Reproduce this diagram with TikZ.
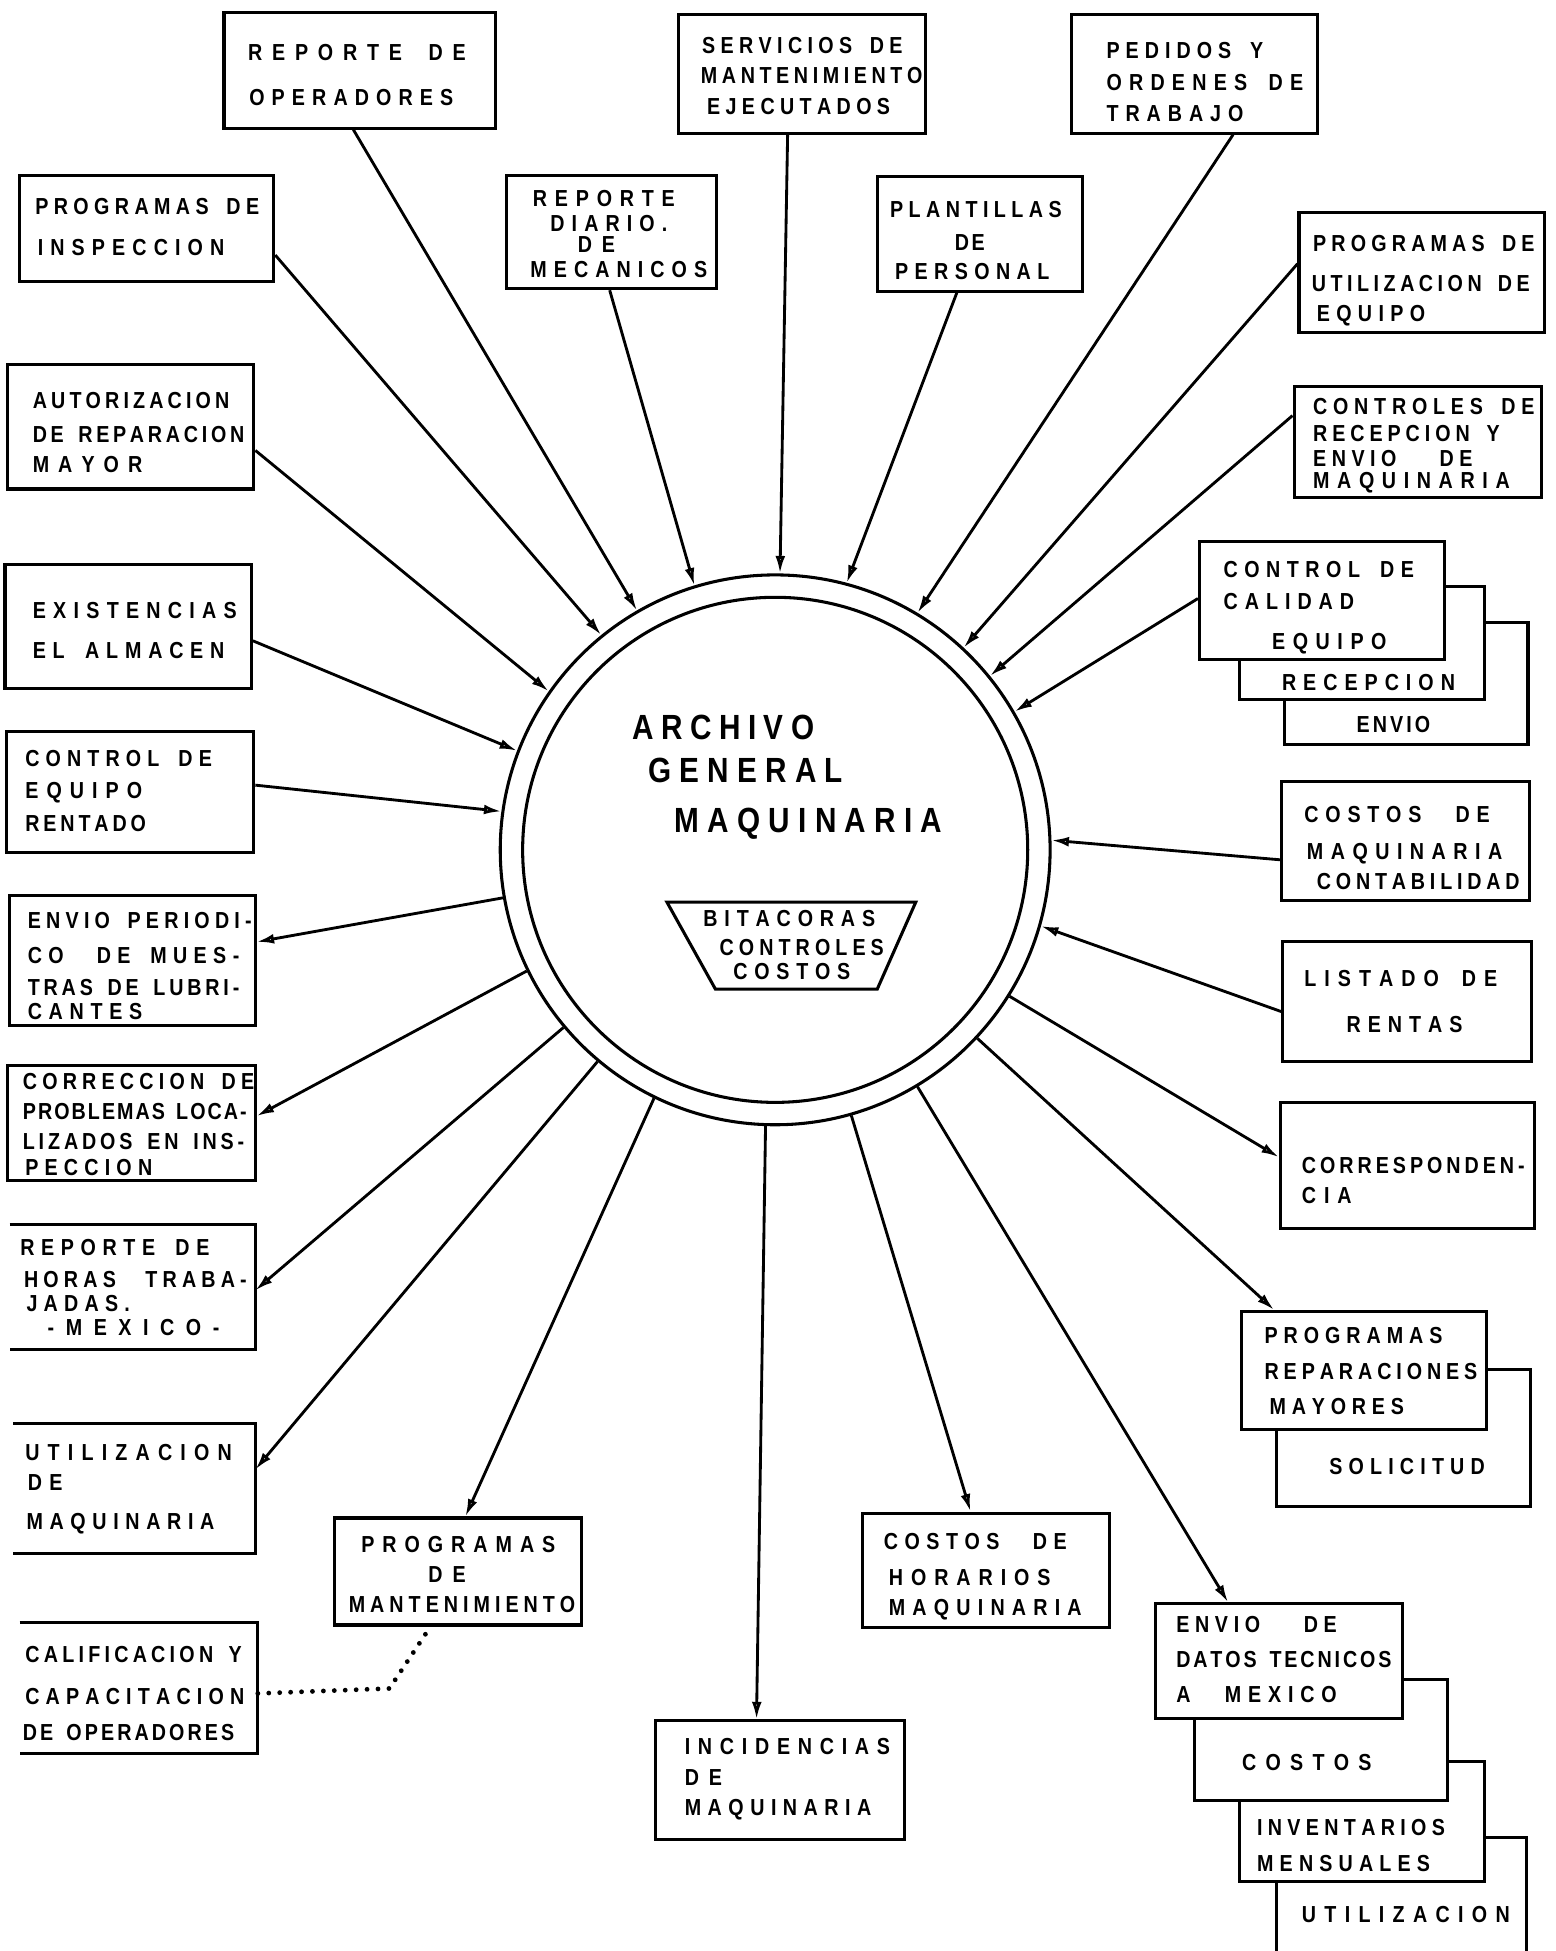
\documentclass[tikz,border=0pt]{standalone}
\usepackage{fontspec}
\usetikzlibrary{arrows.meta}
\newfontfamily\lblfont{Liberation Sans}[FakeStretch=0.85]
\newlength\pxu \setlength\pxu{0.02cm}
\makeatletter
\def\spr@end{\spr@end@}
\def\spr@loop#1{\ifx#1\spr@end\else\ifx#1~\hskip0.3em\hfil\else#1\hfil\fi\expandafter\spr@loop\fi}
\newcommand\spr[2]{\hbox to #1\pxu{\spr@loop#2\spr@end\unskip}}
\makeatother
\tikzset{
 box/.style={draw, fill=white, line width=1.4pt, rectangle, inner sep=0pt},
 lbl/.style={anchor=base west, inner sep=0pt, font=\lblfont\bfseries\fontsize{10.6}{12}\selectfont},
 big/.style={anchor=base west, inner sep=0pt, font=\lblfont\bfseries\fontsize{16}{18}\selectfont},
 conn/.style={line width=1.3pt, -{Latex[open,length=8pt,width=4.5pt]}},
 dotline/.style={line width=2.2pt, line cap=round, dash pattern=on 0pt off 5pt},
 side3/.style={line width=1.4pt},
}
\newcommand\bx[6][]{\node[box,#1,minimum width={(#5-#3)*0.02cm},minimum height={(#6-#4)*0.02cm}] (#2) at ({(#3+#5)/2},{(#4+#6)/2}) {};}
\newcommand\tl[5]{\node[lbl] (#1) at (#2,#3) {\spr{#4}{#5}};}
\newcommand\tb[5]{\node[big] (#1) at (#2,#3) {\spr{#4}{#5}};}
\begin{document}
\begin{tikzpicture}[x=0.02cm,y=-0.02cm]
\fill[white] (0,0) rectangle (1250,1568);
\useasboundingbox (0,0) rectangle (1250,1568);

% central archive
\node[circle, draw, line width=1.4pt, minimum size=8.84cm, inner sep=0pt] (arch) at (623,683) {};
\node[circle, draw, line width=1.4pt, minimum size=8.12cm, inner sep=0pt] (archin) at (623,683) {};
\tb{ar1}{508}{594}{146}{ARCHIVO}
\tb{ar2}{521}{629}{156}{GENERAL}
\tb{ar3}{542}{669}{215}{MAQUINARIA}
\draw[line width=1.4pt] (536,725) -- (736,725) -- (705,795) -- (575,795) -- cycle;
\tl{bt1}{565}{745}{138}{BITACORAS}
\tl{bt2}{578}{768}{132}{CONTROLES}
\tl{bt3}{589}{787}{94}{COSTOS}

% top row
\bx{repop}{180}{10}{398}{103}
\tl{repop1}{199}{49}{175}{REPORTE~DE}
\tl{repop2}{200}{85}{164}{OPERADORES}
\bx{serv}{545}{12}{744}{107}
\tl{serv1}{564}{43}{161}{SERVICIOS~DE}
\tl{serv2}{563}{67}{178}{MANTENIMIENTO}
\tl{serv3}{568}{92}{147}{EJECUTADOS}
\bx{ped}{861}{12}{1059}{107}
\tl{ped1}{889}{47}{126}{PEDIDOS~Y}
\tl{ped2}{889}{73}{158}{ORDENES~DE}
\tl{ped3}{889}{98}{110}{TRABAJO}
\bx{insp}{16}{141}{220}{226}
\tl{insp1}{28}{172}{180}{PROGRAMAS~DE}
\tl{insp2}{30}{205}{150}{INSPECCION}
\bx{diario}{407}{141}{576}{232}
\tl{di1}{428}{166}{114}{REPORTE}
\tl{di2}{442}{186}{94}{DIARIO.}
\tl{di3}{464}{203}{30}{DE}
\tl{di4}{426}{223}{142}{MECANICOS}
\bx{plant}{705}{142}{870}{234}
\tl{pl1}{715}{175}{138}{PLANTILLAS}
\tl{pl2}{767}{201}{24}{DE}
\tl{pl3}{719}{225}{124}{PERSONAL}
\bx{utileq}{1044}{171}{1241}{267}
\tl{ue1}{1055}{202}{178}{PROGRAMAS~DE}
\tl{ue2}{1054}{234}{175}{UTILIZACION~DE}
\tl{ue3}{1058}{258}{87}{EQUIPO}
\bx{autor}{6}{293}{204}{393}
\tl{au1}{26}{328}{158}{AUTORIZACION}
\tl{au2}{26}{356}{170}{DE~REPARACION}
\tl{au3}{26}{380}{88}{MAYOR}
\bx{ctrlrec}{1040}{311}{1239}{400}
\tl{cr1}{1055}{333}{178}{CONTROLES~DE}
\tl{cr2}{1055}{355}{150}{RECEPCION~Y}
\tl{cr3}{1055}{375}{128}{ENVIO~~~DE}
\tl{cr4}{1055}{393}{158}{MAQUINARIA}
\bx{exist}{4}{454}{202}{553}
\tl{ex1}{26}{497}{164}{EXISTENCIAS}
\tl{ex2}{26}{529}{154}{EL~ALMACEN}
% calidad stack
\bx{cal3}{1032}{500}{1228}{598}
\tl{cal3t}{1090}{589}{59}{ENVIO}
\bx{cal2}{996}{471}{1193}{562}
\tl{cal2t}{1030}{555}{139}{RECEPCION}
\bx{cal1}{964}{435}{1161}{530}
\tl{cal1a}{983}{464}{153}{CONTROL~DE}
\tl{cal1b}{983}{490}{105}{CALIDAD}
\tl{cal1c}{1022}{522}{92}{EQUIPO}
\bx{rentado}{5}{588}{204}{685}
\tl{re1}{20}{616}{150}{CONTROL~DE}
\tl{re2}{20}{642}{94}{EQUIPO}
\tl{re3}{20}{668}{97}{RENTADO}
\bx{costmaq}{1030}{628}{1229}{724}
\tl{cm1}{1048}{661}{149}{COSTOS~~DE}
\tl{cm2}{1050}{691}{157}{MAQUINARIA}
\tl{cm3}{1058}{715}{163}{CONTABILIDAD}
\bx{envper}{8}{720}{205}{824}
\tl{ep1}{22}{746}{180}{ENVIO~PERIODI-}
\tl{ep2}{22}{774}{170}{CO~~DE~MUES-}
\tl{ep3}{22}{800}{170}{TRAS~DE~LUBRI-}
\tl{ep4}{22}{819}{92}{CANTES}
\bx{listado}{1031}{757}{1231}{853}
\tl{li1}{1048}{793}{155}{LISTADO~DE}
\tl{li2}{1082}{830}{93}{RENTAS}
\bx{correc}{6}{856}{205}{949}
\tl{co1}{18}{876}{186}{CORRECCION~DE}
\tl{co2}{18}{900}{180}{PROBLEMAS~LOCA-}
\tl{co3}{18}{924}{178}{LIZADOS~EN~INS-}
\tl{co4}{20}{945}{102}{PECCION}
\bx{corresp}{1029}{886}{1233}{987}
\tl{cs1}{1046}{943}{179}{CORRESPONDEN-}
\tl{cs2}{1046}{967}{40}{CIA}
\bx[draw=none]{horas}{9}{985}{204}{1083}
\draw[side3] (horas.north west) -- (horas.north east) -- (horas.south east) -- (horas.south west);
\tl{ho1}{16}{1009}{152}{REPORTE~DE}
\tl{ho2}{19}{1035}{179}{HORAS~~TRABA-}
\tl{ho3}{21}{1054}{83}{JADAS.}
\tl{ho4}{38}{1073}{138}{-MEXICO-}
% reparaciones stack
\bx{sol}{1026}{1101}{1230}{1211}
\tl{solt}{1068}{1185}{125}{SOLICITUD}
\bx{repar}{998}{1054}{1195}{1149}
\tl{rp1}{1016}{1080}{143}{PROGRAMAS}
\tl{rp2}{1016}{1109}{171}{REPARACIONES}
\tl{rp3}{1020}{1137}{108}{MAYORES}
\bx[draw=none]{utilmaq}{12}{1145}{204}{1247}
\draw[side3] (utilmaq.north west) -- (utilmaq.north east) -- (utilmaq.south east) -- (utilmaq.south west);
\tl{um1}{20}{1174}{166}{UTILIZACION}
\tl{um2}{22}{1198}{28}{DE}
\tl{um3}{21}{1229}{151}{MAQUINARIA}
\bx{mant}{269}{1220}{467}{1306}
\tl{ma1}{290}{1248}{156}{PROGRAMAS}
\tl{ma2}{344}{1272}{30}{DE}
\tl{ma3}{280}{1296}{182}{MANTENIMIENTO}
\bx{horar}{693}{1216}{892}{1308}
\tl{hr1}{710}{1245}{147}{COSTOS~~DE}
\tl{hr2}{714}{1274}{130}{HORARIOS}
\tl{hr3}{714}{1298}{155}{MAQUINARIA}
\bx[draw=none]{calif}{17}{1305}{206}{1408}
\draw[side3] (calif.north west) -- (calif.north east) -- (calif.south east) -- (calif.south west);
\tl{ca1}{20}{1336}{174}{CALIFICACION~Y}
\tl{ca2}{20}{1370}{176}{CAPACITACION}
\tl{ca3}{18}{1399}{170}{DE~OPERADORES}
\bx{incid}{527}{1383}{727}{1478}
\tl{in1}{550}{1410}{165}{INCIDENCIAS}
\tl{in2}{550}{1435}{30}{DE}
\tl{in3}{550}{1459}{150}{MAQUINARIA}
% datos stack
\bx{dat4}{1026}{1477}{1227}{1600}
\tl{dat4t}{1046}{1545}{167}{UTILIZACION}
\bx{dat3}{996}{1416}{1193}{1512}
\tl{dat3a}{1010}{1475}{151}{INVENTARIOS}
\tl{dat3b}{1010}{1504}{139}{MENSUALES}
\bx{dat2}{960}{1350}{1163}{1447}
\tl{dat2t}{998}{1423}{104}{COSTOS}
\bx{datos}{929}{1289}{1127}{1381}
\tl{da1}{945}{1312}{129}{ENVIO~~~DE}
\tl{da2}{945}{1340}{173}{DATOS~TECNICOS}
\tl{da3}{945}{1368}{129}{A~~MEXICO}

% inputs to the archive
\draw[conn] (repop.south -| 284,0) -- (arch.120);
\draw[conn] (insp.east |- 0,205) -- (arch.129);
\draw[conn] (diario.south -| 490,0) -- (arch.107);
\draw[conn] (serv.south -| 633,0) -- (arch.89);
\draw[conn] (plant.south -| 769,0) -- (arch.75);
\draw[conn] (ped.south -| 991,0) -- (arch.59);
\draw[conn] (utileq.west |- 0,212) -- (arch.47);
\draw[conn] (ctrlrec.west |- 0,334) -- (arch.39);
\draw[conn] (cal1.west |- 0,481) -- (arch.30);
\draw[conn] (costmaq.west |- 0,691) -- (arch.2);
\draw[conn] (listado.west |- 0,813) -- (arch.344);
\draw[conn] (autor.east |- 0,362) -- (arch.145);
\draw[conn] (exist.east |- 0,515) -- (arch.159);
\draw[conn] (rentado.east |- 0,631) -- (arch.172);
% outputs from the archive
\draw[conn] (arch.190) -- (envper.east |- 0,757);
\draw[conn] (arch.206) -- (correc.east |- 0,897);
\draw[conn] (arch.220) -- (horas.east |- 0,1037);
\draw[conn] (arch.230) -- (utilmaq.east |- 0,1181);
\draw[conn] (arch.244) -- (mant.north -| 374,0);
\draw[conn] (arch.268) -- (incid.north -| 608,0);
\draw[conn] (arch.286) -- (horar.north -| 780,0);
\draw[conn] (arch.301) -- (datos.north -| 987,0);
\draw[conn] (arch.317) -- (repar.north -| 1024,0);
\draw[conn] (arch.328) -- (corresp.west |- 0,930);
% dotted link
\coordinate (dotbend) at (313,1357);
\draw[dotline] (calif.east |- 0,1361) -- (dotbend) -- (mant.south -| 346,0);
\end{tikzpicture}
\end{document}
